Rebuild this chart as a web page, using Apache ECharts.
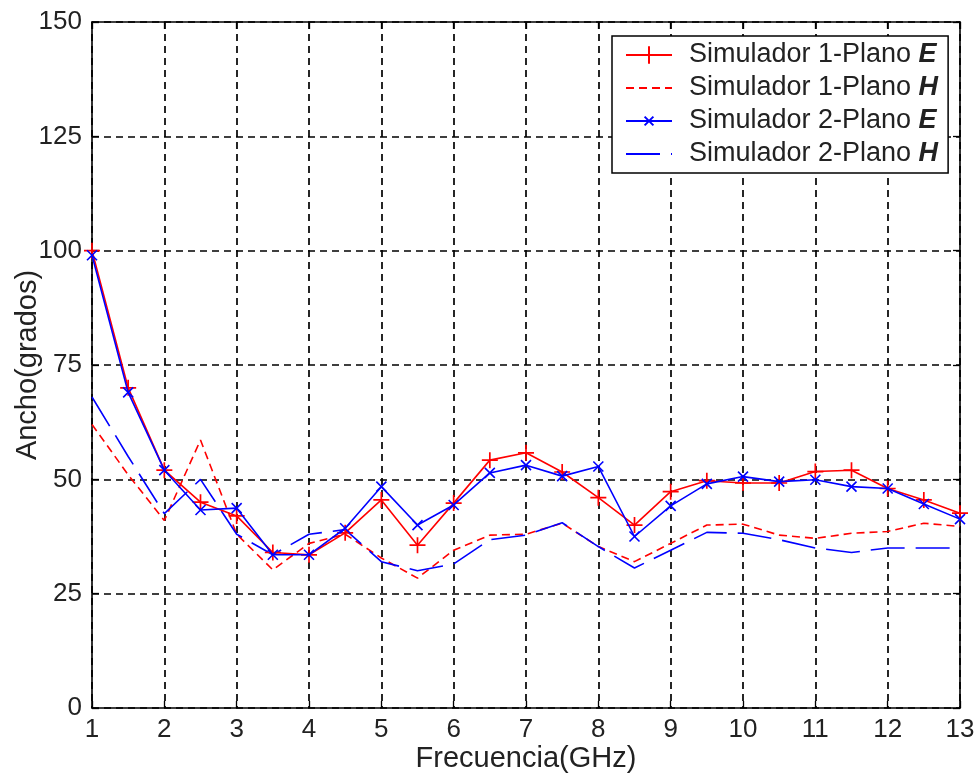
<!DOCTYPE html>
<html>
<head>
<meta charset="utf-8">
<script src="https://cdn.jsdelivr.net/npm/echarts@6/dist/echarts.min.js"></script>
<style>html,body{margin:0;padding:0;background:#fff;}#c{width:974px;height:776px;}</style>
</head>
<body>
<div id="c"></div>
<script>
const freq = [1,1.5,2,2.5,3,3.5,4,4.5,5,5.5,6,6.5,7,7.5,8,8.5,9,9.5,10,10.5,11,11.5,12,12.5,13];
const sim1E = [100,70,52,45,42,34,33.5,38.3,45.5,35.6,44.8,54.2,55.8,51.6,46,40,47.3,49.7,49.2,49.2,51.7,52,48,45.5,42.6];
const sim1H = [62,51,41,58.6,38,30.2,36,38,32.8,28.4,34.5,37.8,38,40.4,35.3,32,36,40,40.2,37.8,37.1,38.2,38.6,40.4,39.7];
const sim2E = [99,69,52,43.3,43.7,33.5,33.5,39.3,48.4,40,44.4,51.4,53.1,50.7,52.8,37.5,44.2,49,50.6,49.5,49.9,48.4,48,44.6,41.3];
const sim2H = [68,55,42.5,50,38,33.5,38,39,32,30,31.5,36.8,37.8,40.5,35.3,30.6,34.5,38.4,38.2,36.8,35,34,35,35,35];
const names = ['Simulador 1-Plano E','Simulador 1-Plano H','Simulador 2-Plano E','Simulador 2-Plano H'];
const yTicks = [0,25,50,75,100,125,150];
const xTicks = [1,2,3,4,5,6,7,8,9,10,11,12,13];

const pair = a => a.map((v,i)=>[freq[i],v]);
const FONT = 'Liberation Sans';
const TXT = '#222';
const chart = echarts.init(document.getElementById('c'));
const axisCommon = {
  axisLine:{show:true,onZero:false,lineStyle:{color:'#000',width:1.6}},
  axisTick:{show:true,inside:true,length:7,lineStyle:{color:'#000',width:1.3}},
};
const gridLine = {show:true,lineStyle:{color:'#000',type:[7,5],width:1.7}};
chart.setOption({
  animation:false,
  backgroundColor:'#fff',
  grid:{left:92,right:14,top:22,bottom:68,containLabel:false,outerBoundsMode:'none'},
  xAxis:[
    Object.assign({type:'value',min:xTicks[0],max:xTicks[xTicks.length-1],interval:1,
      name:'Frecuencia(GHz)',nameLocation:'middle',nameGap:36,nameMoveOverlap:false,
      nameTextStyle:{fontFamily:FONT,fontSize:29,color:TXT},
      axisLabel:{fontFamily:FONT,fontSize:26,color:TXT,margin:9},
      splitLine:gridLine},axisCommon),
    Object.assign({type:'value',position:'top',min:xTicks[0],max:xTicks[xTicks.length-1],interval:1,
      axisLabel:{show:false},splitLine:{show:false}},axisCommon)
  ],
  yAxis:[
    Object.assign({type:'value',min:yTicks[0],max:yTicks[yTicks.length-1],interval:25,
      name:'Ancho(grados)',nameLocation:'middle',nameGap:50,nameMoveOverlap:false,
      nameTextStyle:{fontFamily:FONT,fontSize:29,color:TXT},
      axisLabel:{fontFamily:FONT,fontSize:26,color:TXT,margin:10},
      splitLine:gridLine},axisCommon),
    Object.assign({type:'value',position:'right',min:yTicks[0],max:yTicks[yTicks.length-1],interval:25,
      axisLabel:{show:false},splitLine:{show:false}},axisCommon)
  ],
  legend:{
    orient:'vertical',left:612,top:36,itemGap:3,itemWidth:46,itemHeight:22,
    padding:[4,10,4,13],
    backgroundColor:'#fff',borderColor:'#000',borderWidth:1.5,borderRadius:0,
    data:[{name:names[0]},{name:names[1],itemStyle:{opacity:0}},{name:names[2]},{name:names[3],itemStyle:{opacity:0}}],
    formatter:n=>n.slice(0,-1)+'{i|'+n.slice(-1)+'}',
    textStyle:{fontFamily:FONT,fontSize:27,lineHeight:30,color:TXT,padding:[0,0,0,12],
      rich:{i:{fontFamily:FONT,fontSize:27,lineHeight:30,fontStyle:'italic',fontWeight:'bold',color:TXT}}}
  },
  series:[
    {name:names[0],type:'line',data:pair(sim1E),symbol:'path://M0,5 L10,5 M5,0 L5,10',symbolSize:16,
     showAllSymbol:true,color:'#ff0000',itemStyle:{color:'none',borderColor:'#ff0000',borderWidth:1.7},
     lineStyle:{color:'#ff0000',width:1.6},z:4},
    {name:names[1],type:'line',data:pair(sim1H),symbol:'none',color:'#ff0000',
     lineStyle:{color:'#ff0000',width:1.6,type:[8,5]},z:3},
    {name:names[2],type:'line',data:pair(sim2E),symbol:'path://M-5,-5 M0,0 L10,10 M10,0 L0,10 M15,15',symbolSize:20,
     showAllSymbol:true,color:'#0000ff',itemStyle:{color:'none',borderColor:'#0000ff',borderWidth:1.6},
     lineStyle:{color:'#0000ff',width:1.6},z:5},
    {name:names[3],type:'line',data:pair(sim2H),symbol:'none',color:'#0000ff',
     lineStyle:{color:'#0000ff',width:1.6,type:[34,11]},z:3}
  ]
});
</script>
</body>
</html>
